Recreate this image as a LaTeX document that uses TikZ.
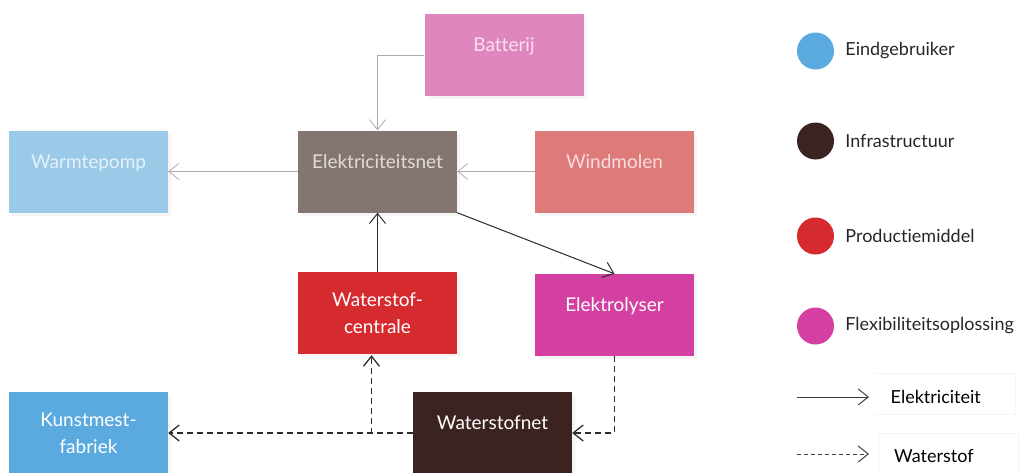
\documentclass[tikz,border=0pt]{standalone}
\usepackage{fontspec}
\setmainfont{Lato}[Ligatures=NoCommon]
\usetikzlibrary{positioning, arrows.meta, shadows}

\definecolor{batc}{HTML}{E086BF}
\definecolor{wpc}{HTML}{9BC9E8}
\definecolor{netc}{HTML}{857570}
\definecolor{windc}{HTML}{DF7A7A}
\definecolor{wscc}{HTML}{D52B2E}
\definecolor{elekc}{HTML}{D440A2}
\definecolor{kunstc}{HTML}{5AAADF}
\definecolor{wnetc}{HTML}{3B2321}
\definecolor{greyline}{HTML}{ABABAB}
\definecolor{darkline}{HTML}{2B2B2B}

\begin{document}
\begin{tikzpicture}[x=1pt, y=1pt, on grid,
  box/.style={rectangle, minimum width=159pt, minimum height=82pt, inner sep=0pt,
    align=center, text=white, font=\fontsize{19}{27}\selectfont,
    drop shadow={opacity=0.08, shadow xshift=3pt, shadow yshift=-3pt}},
  one/.style={text height=13pt, text depth=20pt},
  pale/.style={text opacity=0.75},
  tip/.style={-{Straight Barb[length=10pt, width=16pt]}},
  elec/.style={tip, line width=1pt, darkline},
  grid/.style={tip, line width=0.8pt, greyline},
  hydro/.style={tip, line width=1.3pt, darkline, dash pattern=on 6pt off 4pt},
  dot/.style={circle, minimum size=37pt, inner sep=0pt},
  key/.style={font=\fontsize{18}{22}\selectfont, text=black!85, inner sep=0pt}]

  \useasboundingbox (0,0) rectangle (1021,-472);

  % boxes
  \node[box, one, pale, fill=netc] (net) at (377.5,-171.5) {Elektriciteitsnet};
  \node[box, one, pale, fill=windc] (wind) [right=237pt of net] {Windmolen};
  \node[box, one, pale, fill=wpc] (wp) [left=289pt of net] {Warmtepomp};
  \node[box, one, pale, fill=batc] (bat) [above right=116.5pt and 126.5pt of net] {Batterij};
  \node[box, fill=wscc] (wsc) [below=141.5pt of net] {Waterstof-\\centrale};
  \node[box, one, fill=elekc] (elek) [below=143.5pt of wind] {Elektrolyser};
  \node[box, one, fill=wnetc] (wnet) [below right=261.5pt and 115pt of net] {Waterstofnet};
  \node[box, fill=kunstc] (kunst) [below=261.5pt of wp] {Kunstmest-\\fabriek};

  % electricity
  \draw[grid] (bat.west) -| (net.north);
  \draw[grid] (net.west) -- (wp.east);
  \draw[grid] (wind.west) -- (net.east);
  \draw[elec] (wsc.north) -- (net.south);
  \draw[elec] (net.south east) -- (elek.north);

  % hydrogen
  \draw[hydro] (elek.south) |- (wnet.east);
  \draw[hydro] (wnet.west) -- (kunst.east);
  \draw[hydro] (wnet.west) -| ([xshift=-6pt, yshift=-1pt]wsc.south);

  % legend
  \foreach \y/\c/\t [count=\i] in {51/kunstc/Eindgebruiker, 141/wnetc/Infrastructuur,
      236/wscc/Productiemiddel, 326/elekc/Flexibiliteitsoplossing}
    \node[dot, fill=\c, label={[key, label distance=11pt]right:\t}] (d\i) at (815.5,-\y) {};

  \draw[black!4, line width=0.8pt] (875,-373) -- (1015,-373) -- (1015,-414) -- (875,-414);
  \draw[black!4, line width=0.8pt] (878,-472) -- (878,-433) -- (1018,-433) -- (1018,-472);

  \coordinate (ea) at (796.5,-397);
  \coordinate (eb) at (869,-397);
  \coordinate (ha) at (796.5,-454);
  \coordinate (hb) at (869,-454);
  \draw[elec, line width=1pt, black!75] (ea) -- (eb);
  \draw[hydro, line width=1pt, black!75, dash pattern=on 4pt off 3pt] (ha) -- (hb);
  \node[key, anchor=west, text=black] (kel) at (890.5,-397) {Elektriciteit};
  \node[key, anchor=west, text=black] (khy) at (894,-456) {Waterstof};
\end{tikzpicture}
\end{document}
